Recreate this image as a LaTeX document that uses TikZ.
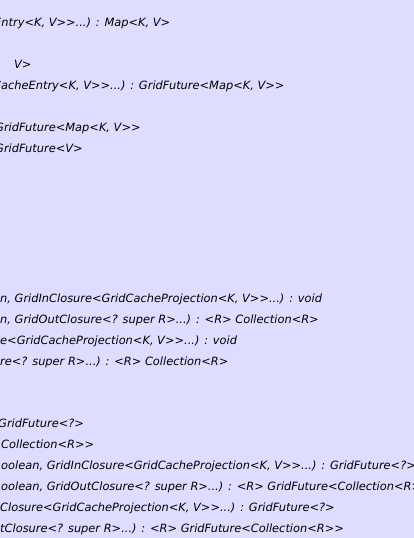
\documentclass[tikz,border=0pt]{standalone}
\usepackage{fontspec}
\setsansfont{DejaVu Sans}
\usepackage{tikz}
\usetikzlibrary{positioning}
\definecolor{umlbg}{RGB}{221,221,255}
\tikzstyle{op}=[anchor=base west, inner sep=0pt, font=\sffamily\itshape\fontsize{11.4}{13}\selectfont]

\begin{document}
\begin{tikzpicture}[x=1pt, y=-1pt]
\fill[umlbg] (0,0) rectangle (414,538);
\clip (0,0) rectangle (414,538);
% upper operations
\node[op] (A1) at (-6,26) {Entry<K, V>{}>...) : Map<K, V>};
\node[op] (A2) at (14,68) {V>};
\node[op] (A3) at (-7,89) {CacheEntry<K, V>{}>...) : GridFuture<Map<K, V>{}>};
\node[op] (A4) at (-5,131) {GridFuture<Map<K, V>{}>};
\node[op] (A5) at (-5,152) {GridFuture<V>};
% projection operations
\node[op] (B1) at (0,302) {n, GridInClosure<GridCacheProjection<K, V>{}>...) : void};
\node[op] (B2) at (0,323) {n, GridOutClosure<? super R>...) : <R> Collection<R>};
\node[op] (B3) at (0,344) {e<GridCacheProjection<K, V>{}>...) : void};
\node[op] (B4) at (0,365) {re<? super R>...) : <R> Collection<R>};
% async operations
\node[op] (C1) at (-2,427) {GridFuture<?>};
\node[op] (C2) at (1,448) {Collection<R>{}>};
\node[op] (C3) at (1,469) {oolean, GridInClosure<GridCacheProjection<K, V>{}>...) : GridFuture<?>};
\node[op] (C4) at (1,490) {oolean, GridOutClosure<? super R>...) : <R> GridFuture<Collection<R>{}>};
\node[op] (C5) at (0,511) {Closure<GridCacheProjection<K, V>{}>...) : GridFuture<?>};
\node[op] (C6) at (0,532) {tClosure<? super R>...) : <R> GridFuture<Collection<R>{}>};
\end{tikzpicture}
\end{document}
